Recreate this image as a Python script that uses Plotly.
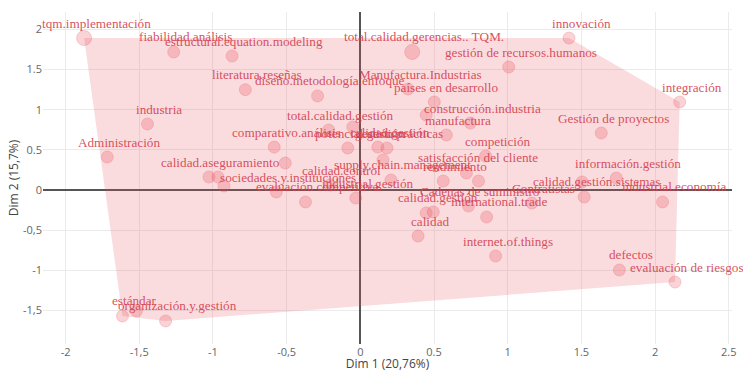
import plotly.graph_objects as go

# Keyword categories and their coordinates on the first two dimensions
labels = [
    "tqm.implementación", "fiabilidad.análisis", "estructural.equation.modeling",
    "literatura.reseñas", "diseño.metodología.enfoque", "total.calidad.gerencias.. TQM.",
    "gestión de recursos.humanos", "innovación", "integración",
    "Manufactura.Industrias", "países en desarrollo", "",
    "construcción.industria", "manufactura", "industria",
    "Administración", "calidad.aseguramiento", "",
    "", "sociedades.y.instituciones", "evaluación competitiva",
    "comparativo.análisis", "", "total.calidad.gestión",
    "", "potencial.gestión", "calidad.gestión",
    "gestión prácticas", "", "supply.chain.management",
    "calidad.control", "industrial.gestión", "calidad.gestión",
    "", "calidad", "internet.of.things",
    "international.trade", "Cadenas de suministro", "Contratistas",
    "competición", "satisfacción del cliente", "rendimiento",
    "", "Gestión de proyectos", "información.gestión",
    "", "calidad.gestión.sistemas", "industrial.economía",
    "defectos", "evaluación de riesgos", "estándar",
    "", "organización.y.gestión",
]
dim1 = [
    -1.874, -1.266, -0.870,
    -0.780, -0.290, 0.352,
    1.007, 1.416, 2.167,
    0.324, 0.502, 0.447,
    0.747, 0.584, -1.444,
    -1.717, -1.027, -0.966,
    -0.925, -0.570, -0.372,
    -0.584, -0.509, -0.215,
    -0.051, -0.085, 0.119,
    0.181, 0.154, 0.208,
    -0.208, -0.031, 0.447,
    0.495, 0.392, 0.918,
    0.857, 0.734, 1.164,
    0.850, 0.720, 0.563,
    0.802, 1.635, 1.737,
    1.505, 1.519, 2.051,
    1.758, 2.135, -1.614,
    -1.519, -1.321,
]
dim2 = [
    1.893, 1.719, 1.669,
    1.250, 1.171, 1.719,
    1.532, 1.893, 1.096,
    1.258, 1.096, 0.934,
    0.834, 0.685, 0.822,
    0.411, 0.162, 0.162,
    0.050, -0.025, -0.149,
    0.535, 0.336, 0.747,
    0.785, 0.523, 0.535,
    0.523, 0.374, 0.125,
    0.062, -0.100, -0.286,
    -0.274, -0.573, -0.822,
    -0.336, -0.200, -0.162,
    0.423, 0.212, 0.112,
    0.112, 0.710, 0.149,
    0.100, -0.087, -0.149,
    -0.996, -1.146, -1.569,
    -1.507, -1.631,
]

x_ticks = [-2, -1.5, -1, -0.5, 0, 0.5, 1, 1.5, 2, 2.5]
x_tick_text = ["-2", "-1,5", "-1", "-0,5", "0", "0.5", "1", "1.5", "2", "2.5"]
y_ticks = [-1.5, -1, -0.5, 0, 0.5, 1, 1.5, 2]
y_tick_text = ["-1,5", "-1", "-0,5", "0", "0.5", "1", "1.5", "2"]

x_title = "Dim 1 (20,76%)"
y_title = "Dim 2 (15,7%)"

# Categories drawn with a slightly larger marker
large_markers = {"tqm.implementación": 15, "total.calidad.gerencias.. TQM.": 15}

RED = "231,76,89"
LABEL_FONT = "Liberation Serif"


def convex_hull(pts):
    pts = sorted(set(pts))
    if len(pts) < 3:
        return pts

    def cross(o, a, b):
        return (a[0] - o[0]) * (b[1] - o[1]) - (a[1] - o[1]) * (b[0] - o[0])

    lower, upper = [], []
    for p in pts:
        while len(lower) >= 2 and cross(lower[-2], lower[-1], p) <= 0:
            lower.pop()
        lower.append(p)
    for p in reversed(pts):
        while len(upper) >= 2 and cross(upper[-2], upper[-1], p) <= 0:
            upper.pop()
        upper.append(p)
    return lower[:-1] + upper[:-1]


hull = convex_hull(list(zip(dim1, dim2)))
hull.append(hull[0])

fig = go.Figure()

fig.add_trace(go.Scatter(
    x=[p[0] for p in hull], y=[p[1] for p in hull],
    mode="lines", fill="toself",
    fillcolor=f"rgba({RED},0.2)",
    line=dict(width=0, color=f"rgba({RED},0)"),
    hoverinfo="skip", showlegend=False,
))

fig.add_trace(go.Scatter(
    x=dim1, y=dim2, mode="markers",
    marker=dict(
        size=[large_markers.get(lab, 12) for lab in labels],
        color=f"rgba({RED},0.35)",
        line=dict(width=1, color=f"rgba({RED},0.35)"),
    ),
    text=labels, hoverinfo="text", showlegend=False,
))

# Category names set just above each point
for lab, xv, yv in zip(labels, dim1, dim2):
    if not lab:
        continue
    fig.add_annotation(
        x=xv, y=yv, text=lab, showarrow=False,
        xshift=12, yshift=15,
        font=dict(family=LABEL_FONT, size=13.2, color="rgba(212,64,78,0.92)"),
    )

axis_common = dict(
    showgrid=True, gridcolor="#ebebeb", gridwidth=1,
    zeroline=True, zerolinecolor="#555555", zerolinewidth=1.5,
    showline=False, ticks="", automargin=False,
    tickfont=dict(family="Open Sans", size=11, color="#666666"),
    title_font=dict(family="Open Sans", size=12, color="#444444"),
)

fig.update_layout(
    width=743, height=372,
    margin=dict(l=43, r=11, t=12, b=28),
    paper_bgcolor="white", plot_bgcolor="white",
    xaxis=dict(range=[-2.153, 2.522], tickvals=x_ticks, ticktext=x_tick_text,
               title=dict(text=x_title, standoff=4), **axis_common),
    yaxis=dict(range=[-1.918, 2.217], tickvals=y_ticks, ticktext=y_tick_text,
               title=dict(text=y_title, standoff=1), **axis_common),
)

fig.write_html("out.html")
